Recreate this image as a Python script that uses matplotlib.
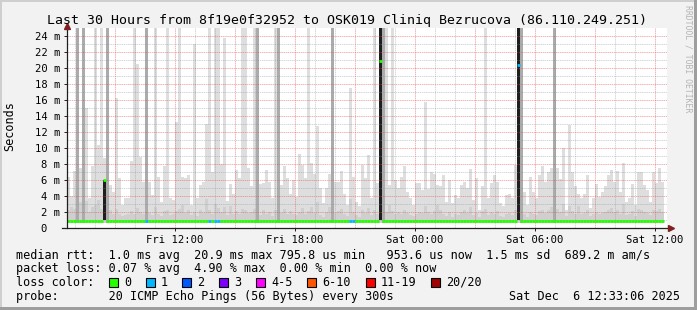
import numpy as np
import matplotlib
matplotlib.use("Agg")
import matplotlib.pyplot as plt
from matplotlib.patches import Rectangle

W, H = 697, 310
MONO = "DejaVu Sans Mono"

# time axis: hours since Fri 00:00, one smoke column = 9 min
t_start = 6.615
t_end = 36.615
slot_h = 0.15
smoke_floor = 0.6

# max rtt per column (ms), 26 = off the top
smoke_top = [
    6.4, 4.0, 7.1, 5.0, 7.5, 5.5, 15.0, 3.7, 7.7, 26,
    10.4, 26, 8.7, 2.7, 5.4, 4.5, 16.3, 6.2, 2.9, 3.7,
    3.7, 8.4, 26, 20.5, 8.9, 5.8, 26, 5.7, 4.1, 26,
    6.4, 3.3, 7.7, 26, 3.7, 3.5, 13.3, 26, 6.4, 6.2,
    6.6, 2.9, 23, 3.8, 5.4, 5.7, 13.0, 26, 7.0, 26,
    26, 8.0, 23.7, 3.4, 5.5, 4.3, 7.25, 6.2, 26, 26,
    7.5, 5.2, 26, 5.0, 5.5, 5.6, 7.25, 5.8, 3.7, 26,
    5.0, 5.4, 7.7, 6.2, 4.3, 6.0, 3.9, 9.3, 7.9, 6.2,
    26, 8.1, 6.8, 12.7, 5.0, 3.1, 5.0, 6.8, 5.0, 5.8,
    5.8, 7.1, 4.3, 2.9, 17.5, 6.4, 3.3, 2.7, 7.9, 6.2,
    9.1, 3.7, 26, 5.6, 5.0, 5.0, 26, 5.4, 26, 6.0,
    5.0, 6.4, 7.7, 4.5, 3.7, 2.9, 5.6, 5.6, 4.75, 15.8,
    4.9, 7.0, 6.8, 5.4, 5.2, 6.6, 3.3, 6.0, 3.1, 4.1,
    3.7, 5.4, 5.8, 5.0, 7.4, 3.5, 6.2, 2.25, 5.2, 26,
    3.7, 5.6, 6.6, 5.8, 3.1, 2.7, 4.1, 4.3, 3.7, 7.9,
    5.0, 5.0, 4.5, 2.9, 6.4, 4.5, 3.7, 6.6, 7.7, 5.8,
    7.0, 7.5, 5.0, 7.5, 6.1, 10.0, 2.25, 12.9, 7.0, 5.2,
    4.3, 3.7, 4.3, 6.6, 2.5, 3.7, 5.5, 3.9, 4.5, 5.2,
    6.6, 7.2, 5.8, 7.1, 4.5, 8.1, 3.3, 3.8, 5.5, 2.9,
    7.0, 7.0, 5.4, 4.75, 3.3, 7.0, 5.6, 7.5, 5.8,
]

# denser part of the smoke (ms)
smoke_mid = [
    2.2, 2.6, 2.4, 2.8, 3.2, 2.3, 3.4, 2.0, 2.6, 2.9,
    3.5, 2.4, 2.1, 1.9, 2.3, 1.7, 2.4, 1.8, 1.5, 1.6,
    1.8, 2.1, 1.7, 2.5, 2.0, 1.7, 2.3, 1.9, 1.6, 2.6,
    1.8, 1.5, 2.1, 2.2, 1.6, 1.8, 2.1, 2.4, 2.9, 1.9,
    2.3, 1.6, 2.0, 1.5, 2.2, 1.9, 3.6, 2.2, 1.8, 3.0,
    2.5, 2.0, 2.6, 1.6, 2.8, 1.8, 2.1, 1.7, 2.4, 2.2,
    1.9, 2.0, 2.4, 2.6, 1.6, 2.3, 1.8, 2.0, 1.5, 2.2,
    2.5, 1.9, 2.4, 1.8, 2.1, 1.7, 1.6, 2.0, 2.5, 1.8,
    2.1, 2.6, 1.9, 3.2, 1.6, 1.4, 2.0, 2.6, 2.2, 1.9,
    2.1, 2.4, 1.7, 1.5, 3.6, 2.0, 1.6, 1.4, 2.3, 1.9,
    2.5, 1.6, 2.2, 1.8, 2.4, 2.2, 2.0, 2.9, 2.1, 1.8,
    2.0, 1.7, 2.3, 1.9, 1.6, 1.5, 1.8, 2.0, 1.9, 2.8,
    2.0, 1.8, 2.1, 2.9, 2.2, 1.8, 1.5, 2.0, 1.4, 1.7,
    1.6, 2.0, 2.2, 1.9, 2.6, 1.6, 1.9, 1.4, 2.1, 2.4,
    1.6, 2.0, 1.8, 2.1, 1.5, 1.4, 1.7, 1.9, 1.6, 2.3,
    2.0, 2.2, 1.8, 1.4, 2.0, 1.7, 1.6, 2.1, 2.3, 1.9,
    2.3, 2.6, 1.8, 2.4, 2.0, 3.0, 1.5, 2.8, 2.1, 1.8,
    2.7, 1.7, 1.9, 2.2, 1.5, 1.7, 2.0, 1.8, 1.9, 2.0,
    2.3, 2.5, 2.0, 2.2, 1.8, 3.0, 1.6, 1.8, 2.1, 1.5,
    2.4, 2.2, 2.0, 1.9, 1.6, 2.3, 2.1, 2.4, 2.0,
]

# columns where the dense smoke goes off the top
dark_slots = [3, 5, 13, 26, 63, 70, 88, 105, 151, 162]
# columns with a black smoke core, and how high it reaches
black_slots = [12, 104, 150]
black_top = [6.0, 26, 26]

median_rtt = [
    0.85, 0.88, 0.82, 0.88, 0.85, 0.90, 0.82, 0.88, 0.85, 0.92,
    0.85, 0.88, 6.0, 0.85, 0.90, 0.88, 0.85, 0.88, 0.85, 0.90,
    0.88, 0.85, 0.90, 0.88, 0.85, 0.88, 0.90, 0.85, 0.88, 0.85,
    0.90, 0.88, 0.85, 0.88, 0.90, 0.85, 0.88, 0.85, 0.90, 0.88,
    0.85, 0.88, 0.90, 0.85, 0.88, 0.92, 0.85, 0.88, 0.85, 0.88,
    0.90, 0.85, 0.88, 0.85, 0.90, 0.88, 0.85, 0.88, 0.92, 0.88,
    0.85, 0.88, 0.90, 0.85, 0.88, 0.85, 0.90, 0.88, 0.85, 0.88,
    0.90, 0.88, 0.85, 0.88, 0.90, 0.85, 0.88, 0.85, 0.90, 0.88,
    0.85, 0.88, 0.90, 0.85, 0.88, 0.85, 0.90, 0.88, 0.85, 0.88,
    0.90, 0.85, 0.88, 0.85, 0.82, 0.85, 0.88, 0.90, 0.85, 0.88,
    0.85, 0.88, 0.90, 0.88, 20.9, 0.88, 0.85, 0.88, 0.90, 0.85,
    0.88, 0.85, 0.90, 0.88, 0.85, 0.88, 0.85, 0.90, 0.88, 0.85,
    0.88, 0.90, 0.85, 0.88, 0.85, 0.88, 0.90, 0.85, 0.88, 0.85,
    0.88, 0.90, 0.85, 0.88, 0.85, 0.90, 0.88, 0.85, 0.88, 0.90,
    0.85, 0.88, 0.85, 0.90, 0.88, 0.85, 0.88, 0.90, 0.85, 0.88,
    20.4, 0.88, 0.85, 0.90, 0.88, 0.85, 0.88, 0.85, 0.90, 0.88,
    0.85, 0.88, 0.90, 0.85, 0.88, 0.85, 0.90, 0.88, 0.85, 0.88,
    0.90, 0.85, 0.88, 0.85, 0.88, 0.90, 0.85, 0.88, 0.85, 0.90,
    0.88, 0.85, 0.88, 0.90, 0.85, 0.88, 0.85, 0.88, 0.90, 0.85,
    0.88, 0.85, 0.90, 0.88, 0.85, 0.88, 0.90, 0.85, 0.88,
]
loss1_slots = [26, 47, 49, 50, 94, 95, 150]

tick_hours = [12, 18, 24, 30, 36]
tick_labels = ["Fri 12:00", "Fri 18:00", "Sat 00:00", "Sat 06:00", "Sat 12:00"]
y_ticks = list(range(0, 25, 2))
y_labels = ["0  "] + [f"{v} m" for v in y_ticks[1:]]

loss_names = ["0", "1", "2", "3", "4-5", "6-10", "11-19", "20/20"]
loss_colors = ["#26ff00", "#00b8ff", "#0059ff", "#7e00ff",
               "#ff00ff", "#ff5500", "#ff0000", "#a10000"]
loss_box_x = [108.5, 145.5, 182.3, 219.3, 256.0, 307.0, 365.7, 430.7]

legend_lines = [
    "median rtt:  1.0 ms avg  20.9 ms max 795.8 us min   953.6 us now  1.5 ms sd  689.2 m am/s",
    "packet loss: 0.07 % avg  4.90 % max  0.00 % min  0.00 % now",
    "loss color:",
    "probe:       20 ICMP Echo Pings (56 Bytes) every 300s",
]
legend_base = [258.5, 272.2, 285.9, 299.6]


def fx(px):
    return px / W


def fy(py):
    return 1 - py / H


fig = plt.figure(figsize=(W / 100, H / 100), dpi=100)
fig.patch.set_facecolor("#f2f2f2")

# rrdtool style 3d frame
fig.add_artist(Rectangle((0, fy(2)), 1, 2 / H, transform=fig.transFigure, color="#cfcfcf", lw=0))
fig.add_artist(Rectangle((0, 0), 2 / W, 1, transform=fig.transFigure, color="#cfcfcf", lw=0))
fig.add_artist(Rectangle((0, 0), 1, 3 / H, transform=fig.transFigure, color="#9e9e9e", lw=0))
fig.add_artist(Rectangle((fx(W - 3), 0), 3 / W, 1, transform=fig.transFigure, color="#9e9e9e", lw=0))

ax = fig.add_axes([fx(67), fy(228), 600 / W, 200 / H])
ax.set_facecolor("white")
ax.set_xlim(t_start, t_end)
ax.set_ylim(0, 25)

x = t_start + np.arange(len(smoke_top)) * slot_h
top = np.array(smoke_top)
mid = np.minimum(np.array(smoke_mid), top)

ax.bar(x, top - smoke_floor, bottom=smoke_floor, width=slot_h, align="edge",
       color="#dedede", lw=0, antialiased=False, zorder=2)
ax.bar(x, mid - smoke_floor, bottom=smoke_floor, width=slot_h, align="edge",
       color="#cfcfcf", lw=0, antialiased=False, zorder=2)
ax.bar(x[dark_slots], 26 - smoke_floor, bottom=smoke_floor, width=slot_h, align="edge",
       color="#ababab", lw=0, antialiased=False, zorder=2)
ax.bar(x[black_slots], np.array(black_top) - 1.0, bottom=1.0, width=slot_h, align="edge",
       color="#1e1e1e", lw=0, antialiased=False, zorder=2.5)

# grid: hourly minor, 3-hourly major; 1 ms minor, 2 ms major
dash = (0, (1.44, 0.72))
minor_col = (0.56, 0.56, 0.56, 0.35)
major_col = (0.87, 0.31, 0.31, 0.42)
for h in range(7, 37):
    ax.axvline(h, color=major_col if h % 3 == 0 else minor_col, lw=0.72, ls=dash, zorder=3)
for v in range(1, 25):
    ax.axhline(v, color=major_col if v % 2 == 0 else minor_col, lw=0.72, ls=dash, zorder=3)

# median line coloured by loss
mcol = [loss_colors[1] if i in loss1_slots else loss_colors[0] for i in range(len(median_rtt))]
ax.hlines(median_rtt, x, x + slot_h, colors=mcol, lw=2.0, zorder=4)

for s in ax.spines.values():
    s.set_visible(False)
ax.plot([-5 / 600, 1.0], [0, 0], transform=ax.transAxes, color="#1f1f1f",
        lw=0.9, clip_on=False, zorder=5)
ax.plot([0, 0], [0, 1.005], transform=ax.transAxes, color="#1f1f1f",
        lw=0.9, clip_on=False, zorder=5)
ax.plot([1.006], [0], transform=ax.transAxes, marker=">", ms=4.5, color="#801f1f",
        clip_on=False, zorder=6)
ax.plot([0], [1.01], transform=ax.transAxes, marker="^", ms=4.5, color="#801f1f",
        clip_on=False, zorder=6)

ax.set_xticks(tick_hours)
ax.set_xticklabels(tick_labels, fontfamily=MONO, fontsize=7.6)
ax.set_yticks(y_ticks)
ax.set_yticklabels(y_labels, fontfamily=MONO, fontsize=7.6)
ax.tick_params(axis="x", length=2, width=0.7, color="#1f1f1f", pad=3)
ax.tick_params(axis="y", length=2.2, width=0.7, color="#1f1f1f", pad=2.5)

fig.text(fx(346.7), fy(24), "Last 30 Hours from 8f19e0f32952 to OSK019 Cliniq Bezrucova (86.110.249.251)",
         family=MONO, fontsize=9.5, ha="center", va="baseline")
fig.text(fx(10), fy(126), "Seconds", family=MONO, fontsize=8.5, rotation=90,
         ha="center", va="center")
fig.text(fx(688), fy(5), "RRDTOOL / TOBI OETIKER", family=MONO, fontsize=5.9,
         rotation=-90, ha="center", va="top", color="#b4b4b4")

for line, base in zip(legend_lines, legend_base):
    fig.text(fx(16), fy(base), line, family=MONO, fontsize=8.5, ha="left", va="baseline")
fig.text(fx(680), fy(legend_base[3]), "Sat Dec  6 12:33:06 2025", family=MONO,
         fontsize=8.5, ha="right", va="baseline")

for bx, name, col in zip(loss_box_x, loss_names, loss_colors):
    fig.add_artist(Rectangle((fx(bx), fy(286.7)), 9 / W, 9 / H, transform=fig.transFigure,
                             facecolor=col, edgecolor="black", lw=0.8))
    fig.text(fx(bx + 15.3), fy(legend_base[2]), name, family=MONO, fontsize=8.5,
             ha="left", va="baseline")

fig.savefig("out.png", dpi=100, facecolor=fig.get_facecolor())
